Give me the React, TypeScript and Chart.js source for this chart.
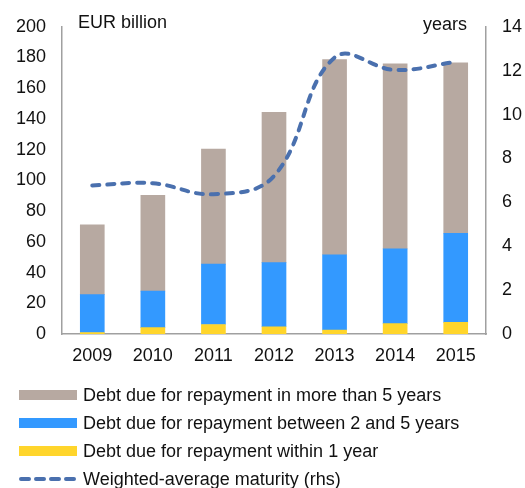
import React, { useEffect, useRef } from "react";
import { Chart, registerables } from "chart.js";

Chart.register(...registerables);

const years = ["2009", "2010", "2011", "2012", "2013", "2014", "2015"];
const within1Year = [1.0, 4.2, 6.2, 4.7, 2.5, 6.8, 7.6];
const between2And5 = [24.6, 23.7, 39.3, 41.8, 49.1, 48.6, 58.0];
const moreThan5 = [45.5, 62.4, 74.9, 97.8, 127.0, 120.5, 110.9];
const maturityYears = [6.77, 6.87, 6.37, 7.2, 12.6, 12.03, 12.4];

const leftTicks = [0, 20, 40, 60, 80, 100, 120, 140, 160, 180, 200];
const rightTicks = [0, 2, 4, 6, 8, 10, 12, 14];

const labels = {
  more5: "Debt due for repayment in more than 5 years",
  between: "Debt due for repayment between 2 and 5 years",
  within: "Debt due for repayment within 1 year",
  maturity: "Weighted-average maturity (rhs)",
};

const GREY = "#B7A9A1";
const BLUE = "#3399FF";
const YELLOW = "#FFD52B";
const LINE = "#4A70AE";
const AXIS = "#A0A0A0";
const FONT = "'Liberation Sans', Arial, sans-serif";

export default function App() {
  const ref = useRef<HTMLCanvasElement | null>(null);

  useEffect(() => {
    if (!ref.current) return;
    const tickFont = { family: FONT, size: 18 };
    const chart = new Chart(ref.current, {
      type: "bar",
      data: {
        labels: years,
        datasets: [
          {
            type: "line",
            label: labels.maturity,
            data: maturityYears,
            yAxisID: "y1",
            borderColor: LINE,
            borderWidth: 4,
            borderDash: [7, 8],
            borderCapStyle: "round",
            pointRadius: 0,
            tension: 0.4,
            fill: false,
            order: 0,
          } as any,
          {
            label: labels.within,
            data: within1Year,
            backgroundColor: YELLOW,
            stack: "s",
            yAxisID: "y",
            barThickness: 24,
            order: 1,
          },
          {
            label: labels.between,
            data: between2And5,
            backgroundColor: BLUE,
            stack: "s",
            yAxisID: "y",
            barThickness: 24,
            order: 1,
          },
          {
            label: labels.more5,
            data: moreThan5,
            backgroundColor: GREY,
            stack: "s",
            yAxisID: "y",
            barThickness: 24,
            order: 1,
          },
        ],
      },
      options: {
        animation: false,
        responsive: false,
        maintainAspectRatio: false,
        layout: { padding: { top: 20, left: 0, right: 0, bottom: 0 } },
        plugins: {
          legend: { display: false },
          tooltip: { enabled: false },
        },
        scales: {
          x: {
            stacked: true,
            grid: { display: false, drawTicks: false },
            border: { display: true, color: AXIS, width: 1.5 },
            ticks: { font: tickFont, color: "#111", padding: 11 },
            afterFit: (s: any) => {
              s.height = 154;
            },
          },
          y: {
            stacked: true,
            position: "left",
            min: 0,
            max: 200,
            afterBuildTicks: (s: any) => {
              s.ticks = leftTicks.map((v) => ({ value: v }));
            },
            grid: { display: false, drawTicks: false },
            border: { display: true, color: AXIS, width: 1.5 },
            ticks: { font: tickFont, color: "#111", padding: 16 },
            afterFit: (s: any) => {
              s.width = 62;
            },
          },
          y1: {
            position: "right",
            min: 0,
            max: 14,
            afterBuildTicks: (s: any) => {
              s.ticks = rightTicks.map((v) => ({ value: v }));
            },
            grid: { display: false, drawTicks: false },
            border: { display: true, color: AXIS, width: 1.5 },
            ticks: { font: tickFont, color: "#111", padding: 16 },
            afterFit: (s: any) => {
              s.width = 39;
            },
          },
        },
      },
    });
    return () => chart.destroy();
  }, []);

  const textStyle: React.CSSProperties = {
    position: "absolute",
    fontFamily: FONT,
    fontSize: 18,
    color: "#111",
    whiteSpace: "nowrap",
    lineHeight: "20px",
  };

  const legendRows = [
    { label: labels.more5, color: GREY, y: 395 },
    { label: labels.between, color: BLUE, y: 423 },
    { label: labels.within, color: YELLOW, y: 451 },
  ];

  return (
    <div
      style={{
        position: "absolute",
        left: 0,
        top: 0,
        width: 525,
        height: 488,
        background: "#fff",
        overflow: "hidden",
      }}
    >
      <canvas ref={ref} width={525} height={488} style={{ display: "block" }} />
      <div style={{ ...textStyle, left: 78, top: 12 }}>EUR billion</div>
      <div style={{ ...textStyle, left: 423, top: 14 }}>years</div>
      {legendRows.map((r) => (
        <React.Fragment key={r.label}>
          <div
            style={{
              position: "absolute",
              left: 19,
              top: r.y - 5,
              width: 58,
              height: 10,
              background: r.color,
            }}
          />
          <div style={{ ...textStyle, left: 83, top: r.y - 10 }}>{r.label}</div>
        </React.Fragment>
      ))}
      <svg
        style={{ position: "absolute", left: 17, top: 474 }}
        width={62}
        height={10}
      >
        <line
          x1={4}
          y1={5}
          x2={58}
          y2={5}
          stroke={LINE}
          strokeWidth={4}
          strokeDasharray="8 7"
          strokeLinecap="round"
        />
      </svg>
      <div style={{ ...textStyle, left: 83, top: 469 }}>{labels.maturity}</div>
    </div>
  );
}
